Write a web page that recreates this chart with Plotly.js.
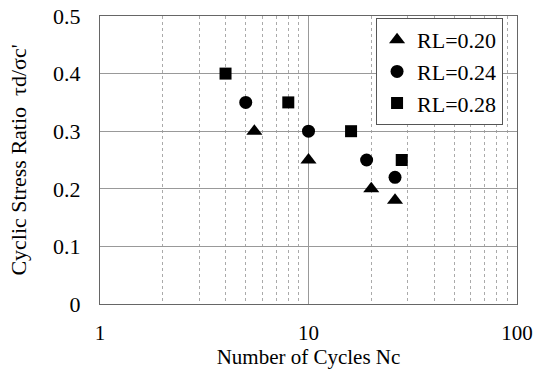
<!DOCTYPE html>
<html><head><meta charset="utf-8">
<script src="https://cdn.plot.ly/plotly-3.0.1.min.js"></script>
<style>html,body{margin:0;padding:0;background:#fff}#chart{width:533px;height:374px}</style>
</head><body><div id="chart"></div>
<script>
const seriesNames = ["RL=0.20", "RL=0.24", "RL=0.28"];
const cyclesRL020 = [5.5, 10, 20, 26];
const ratioRL020 = [0.30, 0.25, 0.20, 0.18];
const cyclesRL024 = [5, 10, 19, 26];
const ratioRL024 = [0.35, 0.30, 0.25, 0.22];
const cyclesRL028 = [4, 8, 16, 28];
const ratioRL028 = [0.40, 0.35, 0.30, 0.25];
const xTickVals = [1, 10, 100];
const xTickText = ["1", "10", "100"];
const yTickVals = [0, 0.1, 0.2, 0.3, 0.4, 0.5];
const yTickText = ["0", "0.1", "0.2", "0.3", "0.4", "0.5"];

const fam = '"Liberation Serif", "Times New Roman", serif';
const yTickFont = {family: fam, size: 22, color: '#000'};
const xTickFont = {family: fam, size: 21, color: '#000'};
const xTitleFont = {family: fam, size: 21, color: '#000'};
const yTitleFont = {family: fam, size: 22, color: '#000'};
const legFont = {family: fam, size: 22, color: '#000'};
function tr(x, y, name, symbol, size) {
  return {x: x, y: y, name: name, type: 'scatter', mode: 'markers',
    marker: {symbol: symbol, size: size, color: '#000'}};
}
const data = [
  tr(cyclesRL020, ratioRL020, seriesNames[0], 'triangle-up', 14),
  tr(cyclesRL024, ratioRL024, seriesNames[1], 'circle', 13),
  tr(cyclesRL028, ratioRL028, seriesNames[2], 'square', 12)
];
const layout = {
  width: 533, height: 374,
  margin: {l: 100, r: 16, t: 16, b: 70, pad: 0},
  paper_bgcolor: '#fff', plot_bgcolor: '#fff',
  font: yTickFont,
  showlegend: true,
  legend: {x: 0.662, y: 0.993, xanchor: 'left', yanchor: 'top',
    bordercolor: '#555', borderwidth: 1, bgcolor: '#fff',
    font: legFont, itemwidth: 30, tracegroupgap: 0},
  xaxis: {type: 'log', range: [0, 2], tickvals: xTickVals, ticktext: xTickText,
    ticks: '', ticklabelstandoff: 10, tickfont: xTickFont,
    showgrid: true, gridcolor: '#999', gridwidth: 1,
    minor: {dtick: 'D1', showgrid: true, gridcolor: '#aaa', griddash: 'dot', gridwidth: 1, ticks: ''},
    showline: true, linecolor: '#666', linewidth: 1, mirror: true, zeroline: false,
    title: {text: 'Number of Cycles Nc', font: xTitleFont, standoff: 2}},
  yaxis: {range: [0, 0.5], tickvals: yTickVals, ticktext: yTickText,
    ticks: '', ticklabelstandoff: 14, tickfont: yTickFont,
    showgrid: true, gridcolor: '#999', gridwidth: 1,
    showline: true, linecolor: '#666', linewidth: 1, mirror: true, zeroline: false,
    title: {text: "Cyclic Stress Ratio  τd/σc'", font: yTitleFont, standoff: 20}}
};
Plotly.newPlot('chart', data, layout, {displayModeBar: false, staticPlot: true});
</script></body></html>
